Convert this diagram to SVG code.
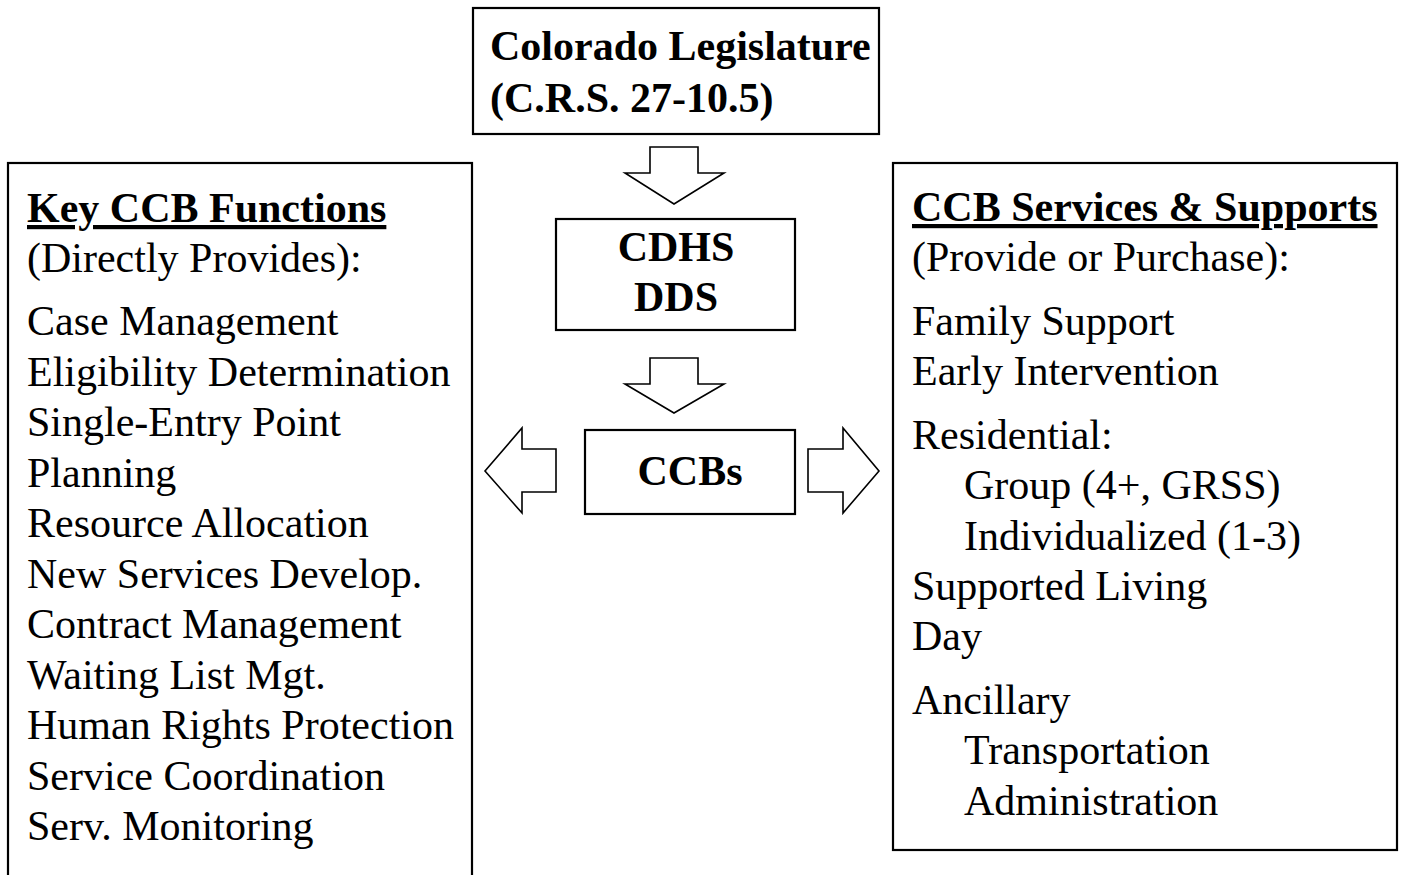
<svg xmlns="http://www.w3.org/2000/svg" width="1401" height="875" viewBox="0 0 1401 875">
<style>
.box{fill:#fff;stroke:#000;stroke-width:2.2}
.arr{fill:#fff;stroke:#000;stroke-width:1.6;stroke-linejoin:miter}
.b{font-family:"Liberation Serif","Times New Roman",serif;font-weight:bold;font-size:42px;fill:#000}
.r{font-family:"Liberation Serif","Times New Roman",serif;font-size:42px;fill:#000}
.u{text-decoration:underline}
</style>
<rect width="1401" height="875" fill="#fff"/>
<g id="legislature">
<rect class="box" x="473" y="8" width="406" height="126"/>
<text class="b" x="490" y="60">Colorado Legislature</text>
<text class="b" x="490" y="112">(C.R.S. 27-10.5)</text>
</g>
<g id="functions">
<rect class="box" x="8" y="163" width="464" height="730"/>
<text class="b u" x="27" y="222">Key CCB Functions</text>
<text class="r" x="27" y="272">(Directly Provides):</text>
<text class="r" x="27" y="335">Case Management</text>
<text class="r" x="27" y="386">Eligibility Determination</text>
<text class="r" x="27" y="436">Single-Entry Point</text>
<text class="r" x="27" y="487">Planning</text>
<text class="r" x="27" y="537">Resource Allocation</text>
<text class="r" x="27" y="588">New Services Develop.</text>
<text class="r" x="27" y="638">Contract Management</text>
<text class="r" x="27" y="689">Waiting List Mgt.</text>
<text class="r" x="27" y="739">Human Rights Protection</text>
<text class="r" x="27" y="790">Service Coordination</text>
<text class="r" x="27" y="840">Serv. Monitoring</text>
</g>
<g id="cdhs">
<rect class="box" x="556" y="219" width="239" height="111"/>
<text class="b" x="676" y="261" text-anchor="middle">CDHS</text>
<text class="b" x="676" y="311" text-anchor="middle">DDS</text>
</g>
<g id="ccbs">
<rect class="box" x="585" y="430" width="210" height="84"/>
<text class="b" x="690" y="485" text-anchor="middle">CCBs</text>
</g>
<g id="services">
<rect class="box" x="893" y="163" width="504" height="687"/>
<text class="b u" x="912" y="221">CCB Services &amp; Supports</text>
<text class="r" x="912" y="271">(Provide or Purchase):</text>
<text class="r" x="912" y="335">Family Support</text>
<text class="r" x="912" y="385">Early Intervention</text>
<text class="r" x="912" y="449">Residential:</text>
<text class="r" x="964" y="499">Group (4+, GRSS)</text>
<text class="r" x="964" y="550">Individualized (1-3)</text>
<text class="r" x="912" y="600">Supported Living</text>
<text class="r" x="912" y="650">Day</text>
<text class="r" x="912" y="714">Ancillary</text>
<text class="r" x="964" y="764">Transportation</text>
<text class="r" x="964" y="815">Administration</text>
</g>
<g id="connectors">
<polygon class="arr" points="650,147 698,147 698,173 724,173 674,204 625,173 650,173"/>
<polygon class="arr" points="650,358 698,358 698,384 724,384 674,413 625,384 650,384"/>
<polygon class="arr" points="556,449 556,492 522,492 522,513 485,471 522,428 522,449"/>
<polygon class="arr" points="808,449 808,492 843,492 843,513 879,471 843,428 843,449"/>
</g>
</svg>
